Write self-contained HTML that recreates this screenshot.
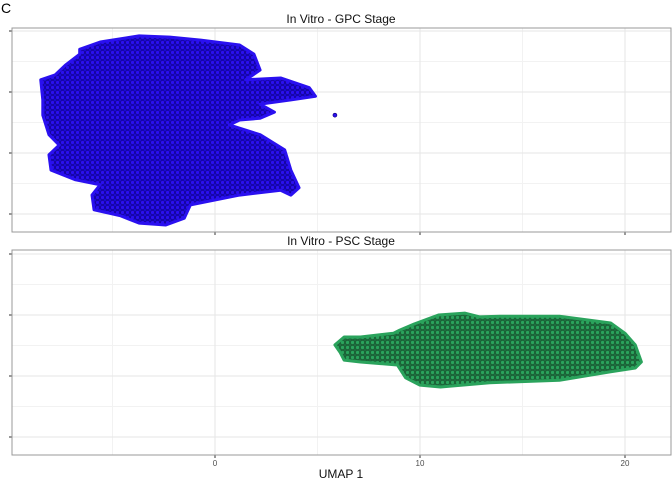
<!DOCTYPE html>
<html><head><meta charset="utf-8"><style>
body{margin:0;background:#fff;font-family:"Liberation Sans",sans-serif}
</style></head><body>
<svg id="c" width="672" height="480" xmlns="http://www.w3.org/2000/svg">
<defs>
<pattern id="pb" width="5" height="5" patternUnits="userSpaceOnUse"><rect width="5" height="5" fill="#1a08d8"/><circle cx="2.5" cy="2.5" r="2" fill="#2a10f0" stroke="#100070" stroke-width="0.6"/></pattern>
<pattern id="pg" width="5" height="5" patternUnits="userSpaceOnUse"><rect width="5" height="5" fill="#1d6e3e"/><circle cx="2.5" cy="2.5" r="2" fill="#2aa35c" stroke="#17502c" stroke-width="0.6"/></pattern>
</defs>
<text x="1" y="13" font-size="14">C</text>
<text x="336" y="336" font-size="13" text-anchor="middle" y="479" transform="translate(0,0)"></text>
</svg>
<script>
const xTicks=[0,10,20];
const xTickLabels=["0","10","20"];
const xMinor=[-5,5,15];
const yTicks=[0,1,2,3];
const gpcBoundaryX=[-6.6,-5.6,-3.7,-2.2,-0.7,1.2,1.9,2.2,1.5,3.2,4.6,4.9,3.7,2.2,2.9,2.2,1.2,0.7,2.2,3.4,3.7,4.1,3.7,3.2,1.2,-1.2,-1.5,-2.4,-3.7,-4.6,-5.9,-6.0,-5.6,-6.8,-8.0,-8.1,-7.6,-8.1,-8.4,-8.4,-8.5,-7.8,-7.3,-6.6];
const gpcBoundaryY=[2.7,2.82,2.92,2.9,2.85,2.77,2.62,2.36,2.2,2.23,2.07,1.93,1.87,1.8,1.67,1.57,1.54,1.46,1.3,1.05,0.72,0.43,0.31,0.39,0.31,0.15,-0.07,-0.18,-0.15,-0.03,0.07,0.31,0.48,0.56,0.72,0.97,1.13,1.3,1.62,1.87,2.2,2.28,2.44,2.62];
const gpcOutlierX=[5.85];
const gpcOutlierY=[1.62];
const pscBoundaryX=[5.85,6.3,7.1,8.7,9.0,9.7,10.9,12.2,12.9,13.9,16.8,19.3,20.0,20.5,20.8,20.5,19.3,16.8,13.4,11.0,10.0,9.3,8.9,7.1,6.3,6.1];
const pscBoundaryY=[1.51,1.64,1.64,1.7,1.75,1.85,2.0,2.03,1.97,1.98,1.98,1.87,1.7,1.51,1.23,1.13,1.07,0.93,0.89,0.82,0.85,0.97,1.18,1.23,1.26,1.39];
const NS="http://www.w3.org/2000/svg";
const svg=document.getElementById('c');
const X=v=>215+v*20.5;
const panels=[{top:28,bot:232,y0:214,title:"In Vitro - GPC Stage",name:"gpc"},{top:250,bot:455,y0:437,title:"In Vitro - PSC Stage",name:"psc"}];
function mk(t,a){const e=document.createElementNS(NS,t);for(const k in a)e.setAttribute(k,a[k]);svg.appendChild(e);return e;}
panels.forEach((p,i)=>{
  const Y=v=>p.y0-v*61;
  const bg=mk('rect',{x:12,y:p.top,width:659,height:p.bot-p.top,fill:'#fff'});
  
  
  for(let v=-0.5;v<=3.5;v+=1){const yy=Y(v);if(yy>p.top&&yy<p.bot){const l=mk('line',{x1:12,x2:671,y1:yy,y2:yy,stroke:'#f2f2f2','stroke-width':1});}}
  xMinor.forEach(v=>{const l=mk('line',{x1:X(v),x2:X(v),y1:p.top,y2:p.bot,stroke:'#f2f2f2','stroke-width':1});});
  yTicks.forEach(v=>{const yy=Y(v);if(yy>p.top&&yy<p.bot){const l=mk('line',{x1:12,x2:671,y1:yy,y2:yy,stroke:'#e6e6e6','stroke-width':1});
    const t=mk('line',{x1:9,x2:12,y1:yy,y2:yy,stroke:'#333'});}});
  xTicks.forEach(v=>{const l=mk('line',{x1:X(v),x2:X(v),y1:p.top,y2:p.bot,stroke:'#e6e6e6','stroke-width':1});
    const t=mk('line',{x1:X(v),x2:X(v),y1:p.bot,y2:p.bot+3,stroke:'#333'});});
  const bx=i===0?gpcBoundaryX:pscBoundaryX, by=i===0?gpcBoundaryY:pscBoundaryY;
  const pts=bx.map((v,k)=>X(v)+','+Y(by[k])).join(' ');
  const poly=mk('polygon',{points:pts,fill:i===0?'url(#pb)':'url(#pg)',stroke:i===0?'#2a10f0':'#2aa35c','stroke-width':3,'stroke-linejoin':'round'});
  
  
  if(i===0){gpcOutlierX.forEach((v,k)=>{const c=mk('circle',{cx:X(v),cy:Y(gpcOutlierY[k]),r:2,fill:'#2a10f0',stroke:'#100070','stroke-width':0.6});});}
  const b=mk('rect',{x:12,y:p.top,width:659,height:p.bot-p.top,fill:'none',stroke:'#999','stroke-width':1});
  
  
  const tt=mk('text',{x:341,y:p.top-5,'font-size':12,'text-anchor':'middle',fill:'#111'});tt.textContent=p.title;
  
  
});
xTicks.forEach((v,k)=>{const t=mk('text',{x:X(v),y:466,'font-size':8,'text-anchor':'middle',fill:'#4d4d4d'});t.textContent=xTickLabels[k];
  
  });
const xt=mk('text',{x:341,y:478,'font-size':12,'text-anchor':'middle',fill:'#111'});xt.textContent="UMAP 1";


</script>
</body></html>
